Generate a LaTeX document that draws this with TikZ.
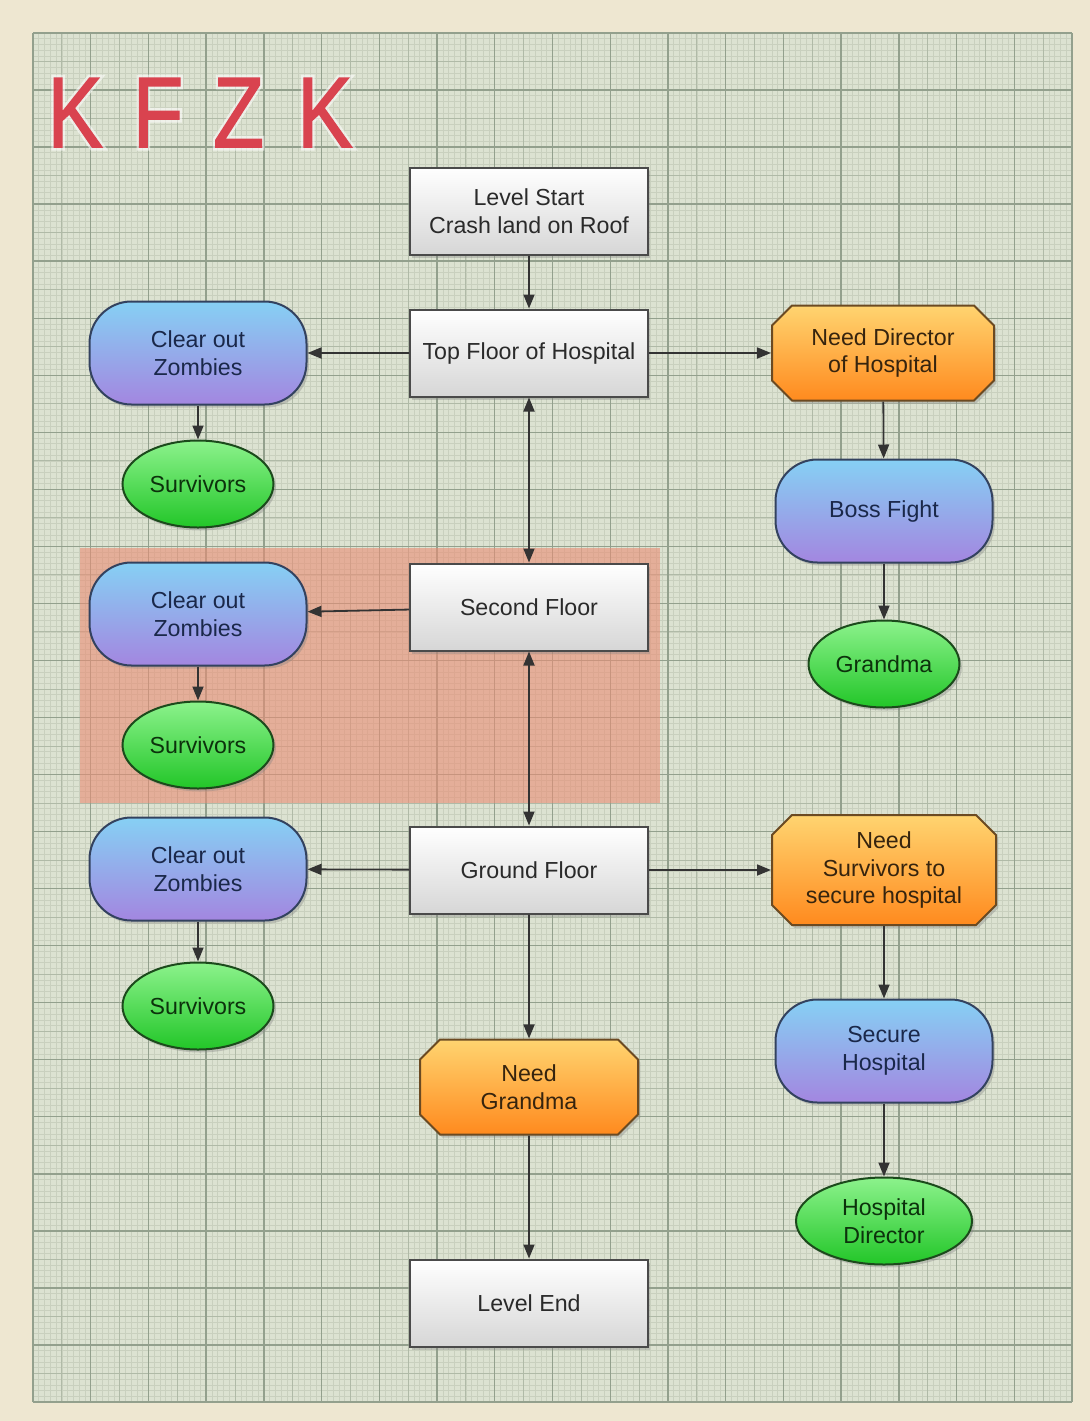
\documentclass[tikz,border=0pt]{standalone}
\usepackage{fontspec}
\setmainfont{Liberation Sans}
\newfontfamily\titlefont[FakeBold=1.6]{Liberation Sans}
\newfontfamily\halofont[FakeBold=7]{Liberation Sans}
\usetikzlibrary{shapes.misc,shapes.geometric,arrows.meta,shadows}
\definecolor{paper}{HTML}{EEE7D1}
\definecolor{gridbg}{HTML}{DCE2D1}
\definecolor{finel}{HTML}{C9D0BE}
\definecolor{medl}{HTML}{B0BAA7}
\definecolor{majl}{HTML}{93A08D}
\definecolor{zone}{HTML}{EA8C74}
\definecolor{titlered}{HTML}{D9434F}
\definecolor{grayedge}{HTML}{4A4A4A}
\definecolor{graytext}{HTML}{2A2A2A}
\definecolor{bluetop}{HTML}{86D0F4}
\definecolor{bluebot}{HTML}{A386E0}
\definecolor{blueedge}{HTML}{33425F}
\definecolor{bluetext}{HTML}{1A284A}
\definecolor{greentop}{HTML}{8CF28C}
\definecolor{greenbot}{HTML}{22C628}
\definecolor{greenedge}{HTML}{1C4A1C}
\definecolor{greentext}{HTML}{0C320C}
\definecolor{orangetop}{HTML}{FFD470}
\definecolor{orangebot}{HTML}{FF8A1E}
\definecolor{orangeedge}{HTML}{6B4A22}
\definecolor{orangetext}{HTML}{36240E}
\definecolor{arrowc}{HTML}{333333}
\begin{document}
\begin{tikzpicture}[x=0.5pt,y=-0.5pt,
  boxfont/.style={font=\fontsize{11.6pt}{13.8pt}\selectfont, align=center},
  shade/.style={drop shadow={shadow xshift=1.2pt, shadow yshift=-1.5pt, opacity=0.35}},
  graybox/.style={boxfont, rectangle, draw=grayedge, line width=1pt, top color=white, bottom color=black!16,
    text=graytext, minimum width=119pt, minimum height=43.5pt, shade},
  bluebox/.style={boxfont, rectangle, rounded corners=21pt, draw=blueedge, line width=1pt,
    top color=bluetop, bottom color=bluebot, text=bluetext, minimum width=108.5pt, minimum height=51.5pt, shade},
  greenell/.style={boxfont, ellipse, draw=greenedge, line width=1pt, top color=greentop, bottom color=greenbot,
    text=greentext, minimum width=75.5pt, minimum height=43.5pt, inner sep=0pt, shade},
  orangebox/.style={boxfont, chamfered rectangle, chamfered rectangle xsep=5pt, chamfered rectangle ysep=5pt,
    draw=orangeedge, line width=1pt, top color=orangetop, bottom color=orangebot, text=orangetext,
    minimum width=111pt, minimum height=47.5pt, inner sep=2pt, shade},
  conn/.style={draw=arrowc, line width=0.9pt, -{Triangle[length=7pt,width=5.5pt]}},
  dconn/.style={draw=arrowc, line width=0.9pt, {Triangle[length=7pt,width=5.5pt]}-{Triangle[length=7pt,width=5.5pt]}}
]
\useasboundingbox (0,0) rectangle (1090,1421);
% paper and graph grid
\fill[paper] (0,0) rectangle (1090,1421);
\fill[gridbg] (33,33) rectangle (1072,1402);
\foreach \i in {0,...,180} \draw[finel, line width=0.3pt] ({33+\i*5.7722},33) -- ({33+\i*5.7722},1402);
\foreach \j in {0,...,240} \draw[finel, line width=0.3pt] (33,{33+\j*5.704}) -- (1072,{33+\j*5.704});
\foreach \i in {0,...,36} \draw[medl, line width=0.45pt] ({33+\i*28.861},33) -- ({33+\i*28.861},1402);
\foreach \j in {0,...,48} \draw[medl, line width=0.45pt] (33,{33+\j*28.52}) -- (1072,{33+\j*28.52});
\foreach \i in {0,...,18} \draw[majl, line width=0.7pt] ({33+\i*57.722},33) -- ({33+\i*57.722},1402);
\foreach \j in {0,...,24} \draw[majl, line width=0.7pt] (33,{33+\j*57.04}) -- (1072,{33+\j*57.04});
% highlighted zone
\fill[zone, opacity=0.6] (80,548) rectangle (660,803);
% title with soft white halo
\node[anchor=base west, inner sep=0pt, text=white, opacity=0.55, font=\halofont\fontsize{50pt}{50pt}\selectfont] (titlehalo) at (47,147)
  {\scalebox{0.83}[1]{K\hspace{18pt}F\hspace{18pt}Z\hspace{20pt}K}};
\node[anchor=base west, inner sep=0pt, text=titlered, font=\titlefont\fontsize{50pt}{50pt}\selectfont] (title) at (47,147)
  {\scalebox{0.83}[1]{K\hspace{18pt}F\hspace{18pt}Z\hspace{20pt}K}};
% centre column
\node[graybox] (start) at (529,211) {Level Start\\Crash land on Roof};
\node[graybox] (top) at (529,353) {Top Floor of Hospital};
\node[graybox] (second) at (529,607) {Second Floor};
\node[graybox] (ground) at (529,870) {Ground Floor};
\node[orangebox, minimum width=109pt] (needg) at (529,1087) {Need\\Grandma};
\node[graybox] (end) at (529,1303) {Level End};
% left column
\node[bluebox] (c1) at (198,353) {Clear out\\Zombies};
\node[greenell] (s1) at (198,484) {Survivors};
\node[bluebox] (c2) at (198,614) {Clear out\\Zombies};
\node[greenell] (s2) at (198,745) {Survivors};
\node[bluebox] (c3) at (198,869) {Clear out\\Zombies};
\node[greenell] (s3) at (198,1006) {Survivors};
% right column
\node[orangebox] (needd) at (883,353) {Need Director\\of Hospital};
\node[bluebox] (boss) at (884,511) {Boss Fight};
\node[greenell] (grandma) at (884,664) {Grandma};
\node[orangebox, minimum width=112pt, minimum height=55pt] (needs) at (884,870) {Need\\Survivors to\\secure hospital};
\node[bluebox] (secure) at (884,1051) {Secure\\Hospital};
\node[greenell, minimum width=88pt] (director) at (884,1221) {Hospital\\Director};
% connectors
\draw[conn] (start) -- (top);
\draw[conn] (top) -- (c1);
\draw[conn] (top) -- (needd);
\draw[dconn] (top) -- (second);
\draw[conn] (second) -- (c2);
\draw[dconn] (second) -- (ground);
\draw[conn] (ground) -- (c3);
\draw[conn] (ground) -- (needs);
\draw[conn] (ground) -- (needg);
\draw[conn] (needg) -- (end);
\draw[conn] (c1) -- (s1);
\draw[conn] (c2) -- (s2);
\draw[conn] (c3) -- (s3);
\draw[conn] (needd) -- (boss);
\draw[conn] (boss) -- (grandma);
\draw[conn] (needs) -- (secure);
\draw[conn] (secure) -- (director);
\end{tikzpicture}
\end{document}
